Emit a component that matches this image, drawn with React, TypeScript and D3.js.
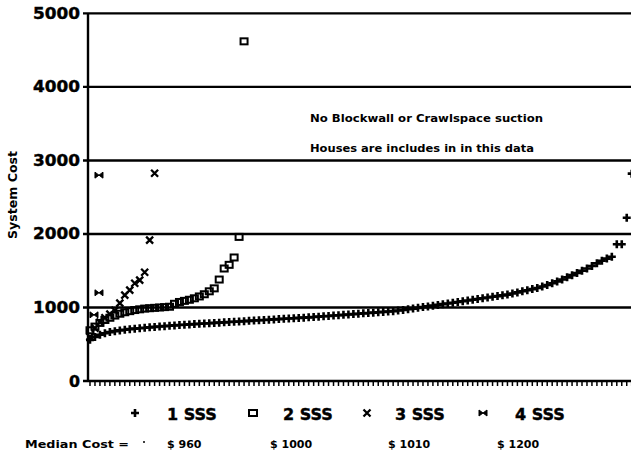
import React, { useEffect, useRef } from 'react';
import * as d3 from 'd3';

// y axis ticks
const yTicks = [0, 1000, 2000, 3000, 4000, 5000];

// system cost per house, sorted
const sss1 = [
  560, 600, 630, 650, 665, 678, 688, 697, 705, 712,
  718, 724, 730, 736, 741, 746, 751, 756, 761, 766,
  770, 774, 778, 782, 786, 790, 794, 798, 802, 806,
  810, 814, 818, 822, 826, 830, 834, 838, 842, 846,
  850, 854, 858, 862, 866, 870, 875, 880, 885, 890,
  895, 900, 905, 910, 915, 920, 925, 930, 935, 940,
  945, 950, 958, 966, 975, 985, 995, 1005, 1015, 1025,
  1035, 1045, 1055, 1065, 1075, 1085, 1095, 1105, 1115, 1125,
  1135, 1145, 1155, 1165, 1175, 1190, 1205, 1220, 1235, 1250,
  1265, 1285, 1305, 1330, 1355, 1380, 1410, 1440, 1470, 1500,
  1530, 1565, 1600, 1635, 1665, 1690, 1860, 1860, 2220, 2820,
];
const sss2 = [
  690, 740, 790, 830, 860, 890, 915, 935, 950, 965,
  975, 985, 990, 995, 1000, 1005, 1010, 1050, 1075, 1090,
  1105, 1125, 1150, 1180, 1220, 1260, 1380, 1530, 1580, 1680,
  1960, 4620,
];
const sss3 = [600, 720, 800, 860, 910, 960, 1060, 1168, 1236, 1330, 1372, 1480, 1916, 2826];
const sss4 = [900, 1200, 2800];
const sss4Rank = [0, 1, 1];

const legendLabels = ['1 SSS', '2 SSS', '3 SSS', '4 SSS'];
const medianLabels = ['$ 960', '$ 1000', '$ 1010', '$ 1200'];
const notes = ['No Blockwall or Crawlspace suction', 'Houses are includes in in this data'];

const FONT = "'DejaVu Sans', 'Liberation Sans', Arial, sans-serif";

const App = () => {
  const ref = useRef<SVGSVGElement | null>(null);

  useEffect(() => {
    if (!ref.current) return;
    const svg = d3.select(ref.current);
    svg.selectAll('*').remove();

    const left = 88;
    const x = d3.scaleLinear().domain([0, 109]).range([90, 631.7]);
    const y = d3.scaleLinear().domain([0, 5000]).range([381, 13.4]);

    // gridlines
    svg.append('g')
      .selectAll('line')
      .data(yTicks)
      .enter().append('line')
      .attr('x1', left - 5)
      .attr('x2', 640)
      .attr('y1', d => y(d))
      .attr('y2', d => y(d))
      .attr('stroke', '#000')
      .attr('stroke-width', 2.4);

    // y axis line
    svg.append('line')
      .attr('x1', left).attr('x2', left)
      .attr('y1', y(5000)).attr('y2', y(0) + 1)
      .attr('stroke', '#000').attr('stroke-width', 2.4);

    // y tick labels
    svg.append('g')
      .selectAll('text')
      .data(yTicks)
      .enter().append('text')
      .attr('x', 80)
      .attr('y', d => y(d) + 5.5)
      .attr('text-anchor', 'end')
      .attr('font-family', FONT)
      .attr('font-weight', 700)
      .attr('font-size', 15)
      .attr('stroke', '#000').attr('stroke-width', 0.4)
      .attr('textLength', d => (d === 0 ? 11 : 47))
      .attr('lengthAdjust', 'spacingAndGlyphs')
      .text(d => d);

    // x ticks, one per house
    svg.append('g')
      .selectAll('line')
      .data(d3.range(0, 111))
      .enter().append('line')
      .attr('x1', d => x(d)).attr('x2', d => x(d))
      .attr('y1', y(0)).attr('y2', y(0) + 5)
      .attr('stroke', '#000').attr('stroke-width', 1.5);

    // axis title
    svg.append('text')
      .attr('transform', 'translate(17,195) rotate(-90)')
      .attr('text-anchor', 'middle')
      .attr('font-family', FONT)
      .attr('font-weight', 700)
      .attr('font-size', 11.5)
      .attr('textLength', 88).attr('lengthAdjust', 'spacingAndGlyphs')
      .text('System Cost');

    // notes
    svg.append('g')
      .selectAll('text')
      .data(notes)
      .enter().append('text')
      .attr('x', 310)
      .attr('y', (d, i) => 122 + i * 30)
      .attr('font-family', FONT)
      .attr('font-weight', 700)
      .attr('font-size', 11)
      .attr('textLength', (d, i) => (i === 0 ? 233 : 224))
      .attr('lengthAdjust', 'spacingAndGlyphs')
      .text(d => d);

    const plusPath = 'M-4,0H4M0,-4V4';
    const crossPath = 'M-3.5,-3.5L3.5,3.5M-3.5,3.5L3.5,-3.5';
    const bowPath = 'M-4,-3L4,3V-3L-4,3Z';

    const plot = svg.append('g');

    // 1 SSS
    plot.selectAll('.p1')
      .data(sss1)
      .enter().append('path')
      .attr('class', 'p1')
      .attr('transform', (d, i) => `translate(${x(i)},${y(d)})`)
      .attr('d', plusPath)
      .attr('stroke', '#000').attr('stroke-width', 2.6).attr('fill', 'none');

    // 2 SSS
    plot.selectAll('.p2')
      .data(sss2)
      .enter().append('rect')
      .attr('class', 'p2')
      .attr('x', (d, i) => x(i) - 3.5)
      .attr('y', d => y(d) - 3)
      .attr('width', 7).attr('height', 6)
      .attr('stroke', '#000').attr('stroke-width', 2).attr('fill', 'none');

    // 3 SSS
    plot.selectAll('.p3')
      .data(sss3)
      .enter().append('path')
      .attr('class', 'p3')
      .attr('transform', (d, i) => `translate(${x(i)},${y(d)})`)
      .attr('d', crossPath)
      .attr('stroke', '#000').attr('stroke-width', 2.3).attr('fill', 'none');

    // 4 SSS
    plot.selectAll('.p4')
      .data(sss4)
      .enter().append('path')
      .attr('class', 'p4')
      .attr('transform', (d, i) => `translate(${x(sss4Rank[i]) + 4},${y(d)})`)
      .attr('d', bowPath)
      .attr('stroke', '#000').attr('stroke-width', 1)
      .attr('fill', '#000');

    // legend
    const symX = [135, 253, 367, 483];
    const labX = [167, 283, 395, 515];
    const leg = svg.append('g');
    legendLabels.forEach((lab, i) => {
      const g = leg.append('g').attr('transform', `translate(${symX[i]},413)`);
      if (i === 0) g.append('path').attr('d', plusPath).attr('stroke', '#000').attr('stroke-width', 2.6);
      if (i === 1) g.append('rect').attr('x', -4).attr('y', -3).attr('width', 8).attr('height', 6)
        .attr('fill', 'none').attr('stroke', '#000').attr('stroke-width', 2);
      if (i === 2) g.append('path').attr('d', crossPath).attr('stroke', '#000').attr('stroke-width', 2.3);
      if (i === 3) g.append('path').attr('d', bowPath).attr('fill', '#000').attr('stroke', '#000').attr('stroke-width', 1);
      leg.append('text')
        .attr('x', labX[i]).attr('y', 420)
        .attr('font-family', FONT).attr('font-weight', 700).attr('font-size', 16)
        .attr('stroke', '#000').attr('stroke-width', 0.4)
        .text(lab);
    });

    // medians
    svg.append('text')
      .attr('x', 25).attr('y', 448)
      .attr('font-family', FONT).attr('font-weight', 700).attr('font-size', 11)
      .attr('textLength', 104).attr('lengthAdjust', 'spacingAndGlyphs')
      .text('Median Cost  =');
    svg.append('circle').attr('cx', 144).attr('cy', 442).attr('r', 1).attr('fill', '#000');
    const mX = [167, 270, 388, 497];
    svg.append('g')
      .selectAll('text')
      .data(medianLabels)
      .enter().append('text')
      .attr('x', (d, i) => mX[i]).attr('y', 448)
      .attr('font-family', FONT).attr('font-weight', 700).attr('font-size', 11)
      .text(d => d);
  }, []);

  return (
    <svg
      ref={ref}
      width={631}
      height={461}
      style={{ position: 'absolute', left: 0, top: 0, background: '#fff' }}
    />
  );
};

export default App;
